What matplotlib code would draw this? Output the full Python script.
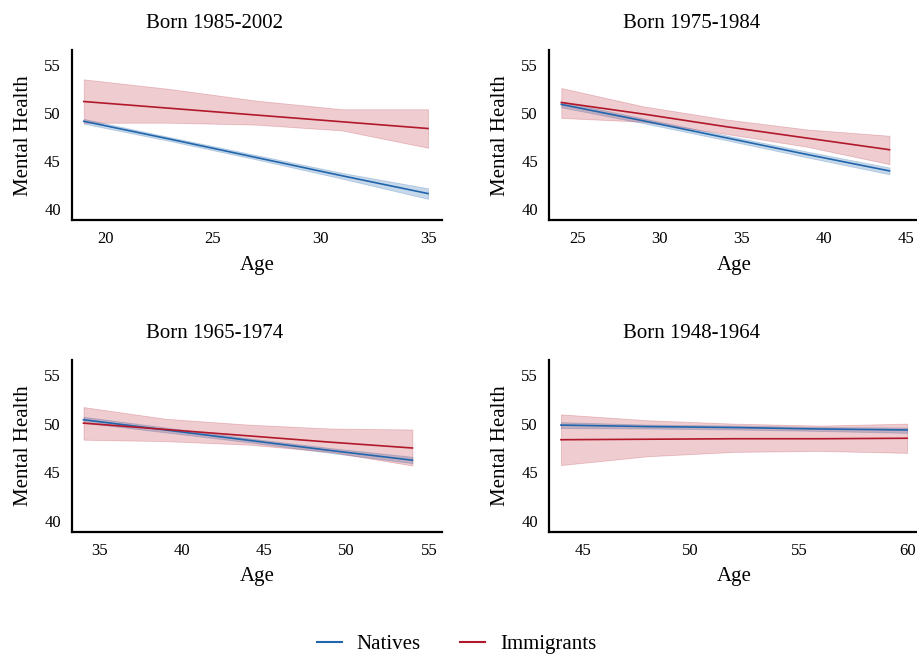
import matplotlib
matplotlib.use("Agg")
import matplotlib.pyplot as plt
from matplotlib.lines import Line2D

plt.rcParams['font.family'] = ['Liberation Serif', 'DejaVu Serif']

# Born 1985-2002
age1 = [19, 23, 27, 31, 35]
nat1 = [49.15, 47.3, 45.4, 43.5, 41.65]
nat1_lo = [48.9, 47.1, 45.2, 43.2, 41.1]
nat1_hi = [49.4, 47.5, 45.65, 43.8, 42.2]
imm1 = [51.2, 50.5, 49.8, 49.1, 48.4]
imm1_lo = [49.0, 49.0, 48.8, 48.2, 46.4]
imm1_hi = [53.5, 52.5, 51.3, 50.4, 50.4]

# Born 1975-1984
age2 = [24, 29, 34, 39, 44]
nat2 = [50.9, 49.2, 47.45, 45.7, 44.0]
nat2_lo = [50.6, 48.95, 47.2, 45.4, 43.65]
nat2_hi = [51.2, 49.45, 47.7, 46.0, 44.35]
imm2 = [51.1, 49.9, 48.6, 47.4, 46.2]
imm2_lo = [49.5, 49.1, 47.85, 46.5, 44.7]
imm2_hi = [52.6, 50.7, 49.35, 48.3, 47.65]

# Born 1965-1974
age3 = [34, 39, 44, 49, 54]
nat3 = [50.4, 49.35, 48.3, 47.25, 46.25]
nat3_lo = [50.1, 49.1, 48.1, 47.0, 45.95]
nat3_hi = [50.7, 49.6, 48.5, 47.5, 46.6]
imm3 = [50.05, 49.4, 48.75, 48.1, 47.5]
imm3_lo = [48.35, 48.2, 47.85, 47.1, 45.7]
imm3_hi = [51.7, 50.5, 49.9, 49.5, 49.4]

# Born 1948-1964
age4 = [44, 48, 52, 56, 60]
nat4 = [49.85, 49.7, 49.6, 49.45, 49.35]
nat4_lo = [49.55, 49.5, 49.4, 49.25, 49.05]
nat4_hi = [50.15, 49.9, 49.8, 49.65, 49.6]
imm4 = [48.35, 48.4, 48.45, 48.45, 48.5]
imm4_lo = [45.75, 46.65, 47.1, 47.2, 47.0]
imm4_hi = [50.95, 50.35, 50.0, 49.8, 50.0]

titles = ["Born 1985-2002", "Born 1975-1984", "Born 1965-1974", "Born 1948-1964"]
xlims = [(18.45, 35.65), (23.25, 45.8), (33.3, 55.8), (43.45, 60.55)]
xticks = [[20, 25, 30, 35], [25, 30, 35, 40, 45], [35, 40, 45, 50, 55], [45, 50, 55, 60]]

panels = [
    (age1, nat1, nat1_lo, nat1_hi, imm1, imm1_lo, imm1_hi),
    (age2, nat2, nat2_lo, nat2_hi, imm2, imm2_lo, imm2_hi),
    (age3, nat3, nat3_lo, nat3_hi, imm3, imm3_lo, imm3_hi),
    (age4, nat4, nat4_lo, nat4_hi, imm4, imm4_lo, imm4_hi),
]

blue = "#2166ac"
red = "#b2182b"

fig = plt.figure(figsize=(9.17, 6.55), dpi=100)
positions = [
    [0.0785, 0.664, 0.4035, 0.259],
    [0.5987, 0.664, 0.4035, 0.259],
    [0.0785, 0.188, 0.4035, 0.262],
    [0.5987, 0.188, 0.4035, 0.262],
]

for k, (age, nat, nlo, nhi, imm, ilo, ihi) in enumerate(panels):
    ax = fig.add_axes(positions[k])
    ax.fill_between(age, nlo, nhi, facecolor=blue, alpha=0.25, edgecolor=blue, linewidth=0.6)
    ax.plot(age, nat, color=blue, lw=1.2)
    ax.fill_between(age, ilo, ihi, facecolor=red, alpha=0.22, edgecolor=red, linewidth=0.6)
    ax.plot(age, imm, color=red, lw=1.2)
    ax.set_xlim(*xlims[k])
    ax.set_ylim(38.9, 56.5)
    ax.set_xticks(xticks[k])
    ax.set_yticks([40, 45, 50, 55])
    ax.tick_params(length=0, labelsize=12, pad=8)
    for s in ["top", "right"]:
        ax.spines[s].set_visible(False)
    for s in ["left", "bottom"]:
        ax.spines[s].set_linewidth(1.6)
    ax.set_title(titles[k], fontsize=15, pad=16, x=0.385)
    ax.set_xlabel("Age", fontsize=15, labelpad=6)
    ax.set_ylabel("Mental Health", fontsize=15, labelpad=8)

handles = [Line2D([], [], color=blue, lw=1.5), Line2D([], [], color=red, lw=1.5)]
fig.legend(handles, ["Natives", "Immigrants"], loc="lower center", ncol=2,
           bbox_to_anchor=(0.498, -0.027), frameon=False, fontsize=15,
           handlelength=1.2, columnspacing=1.9, handletextpad=0.7)

fig.savefig("out.png", dpi=100)
